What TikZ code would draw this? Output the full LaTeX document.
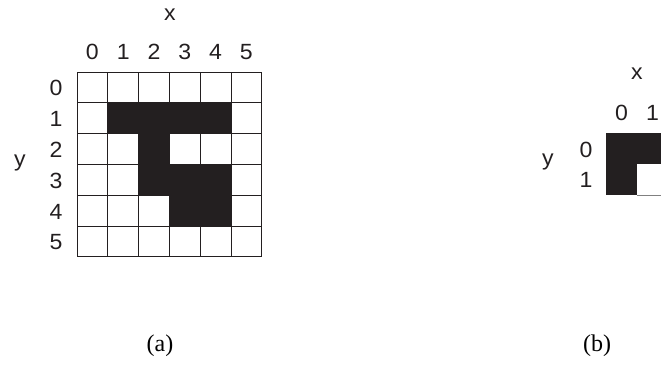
\documentclass[tikz,border=0pt]{standalone}
\usepackage{fontspec}
\setmainfont{Liberation Serif}
\newfontfamily\labfont[FakeStretch=1.05]{Liberation Sans}
\definecolor{ink}{HTML}{231F20}
\begin{document}
\begin{tikzpicture}[x=1pt,y=-1pt,
  lab/.style={font=\labfont\fontsize{22pt}{24pt}\selectfont, inner sep=0pt, text=ink},
  capstyle/.style={font=\fontsize{24pt}{26pt}\selectfont, inner sep=0pt},
  gridline/.style={draw=ink, line width=0.9pt},
  fillcell/.style={fill=ink}]
\useasboundingbox (0,0) rectangle (661,367);
\clip (0,0) rectangle (661,367);
% ---------- (a) ----------
\def\ax{77}\def\ay{72}\def\ac{30.8}
\foreach \c/\r in {1/1,2/1,3/1,4/1,2/2,2/3,3/3,4/3,3/4,4/4}{
  \fill[fillcell] (\ax+\c*\ac,\ay+\r*\ac) rectangle ++(\ac,\ac);
}
\foreach \i in {0,...,6}{
  \draw[gridline] (\ax+\i*\ac,\ay) -- (\ax+\i*\ac,\ay+6*\ac);
  \draw[gridline] (\ax,\ay+\i*\ac) -- (\ax+6*\ac,\ay+\i*\ac);
}
\foreach \i in {0,...,5}{
  \node[lab] (acol\i) at (\ax+\ac/2+\i*\ac,52) {\i};
  \node[lab] (arow\i) at (56,\ay+\ac/2+\i*\ac+1) {\i};
}
\node[lab] (ax) at (170,15) {x};
\node[lab] (ay) at (20,163) {y};
\node[capstyle] (capa) at (160,346) {(a)};
% ---------- (b) ----------
\def\bx{606}\def\by{133}\def\bc{31}
\fill[fillcell] (\bx,\by) rectangle ++(2*\bc,\bc);
\fill[fillcell] (\bx,\by+\bc) rectangle ++(\bc,\bc);
\draw[draw=gray, line width=1pt] (\bx+\bc,\by+2*\bc) -- (\bx+2*\bc,\bc+\by+\bc);
\node[lab] (bcol0) at (\bx+\bc/2,113) {0};
\node[lab] (bcol1) at (\bx+\bc/2+\bc,113) {1};
\node[lab] (brow0) at (586,150) {0};
\node[lab] (brow1) at (586,180) {1};
\node[lab] (bx) at (637,74) {x};
\node[lab] (by) at (548,162) {y};
\node[capstyle] (capb) at (597,346) {(b)};
\end{tikzpicture}
\end{document}
